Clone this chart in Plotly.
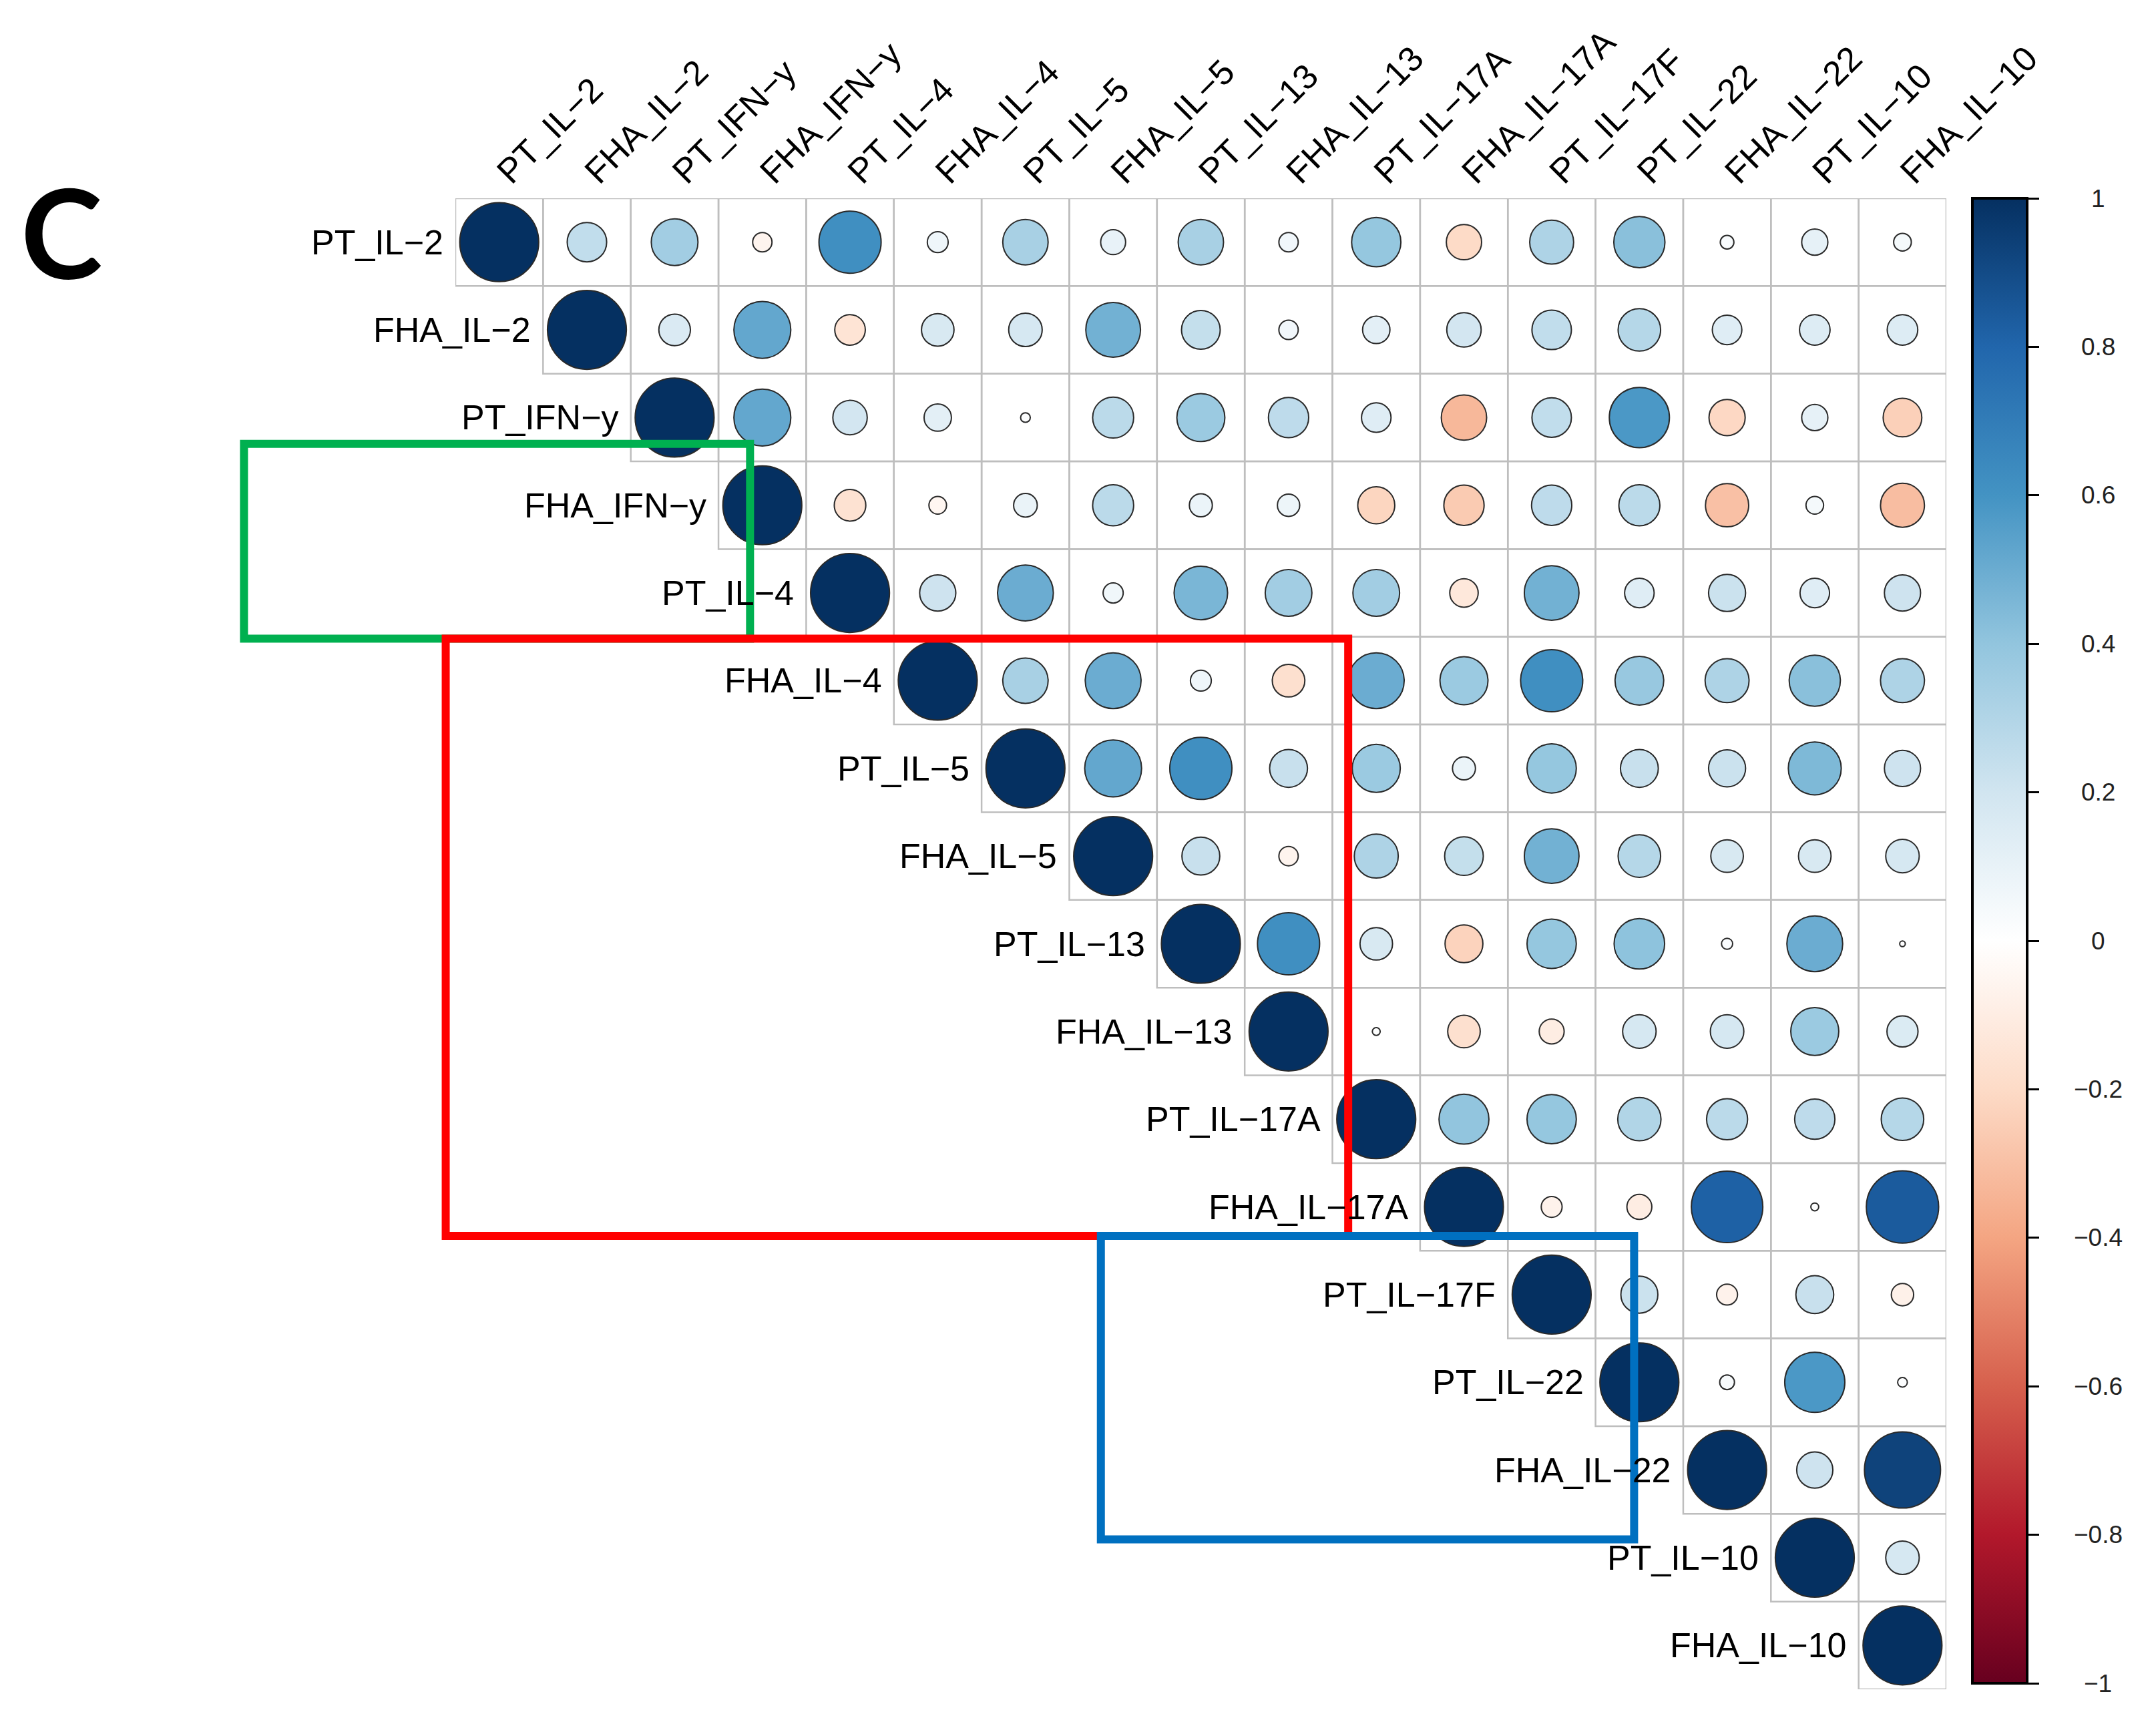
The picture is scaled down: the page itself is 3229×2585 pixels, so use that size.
import plotly.graph_objects as go

# ---------------- data ----------------
labels = ["PT_IL-2", "FHA_IL-2", "PT_IFN-y", "FHA_IFN-y", "PT_IL-4", "FHA_IL-4",
          "PT_IL-5", "FHA_IL-5", "PT_IL-13", "FHA_IL-13", "PT_IL-17A", "FHA_IL-17A",
          "PT_IL-17F", "PT_IL-22", "FHA_IL-22", "PT_IL-10", "FHA_IL-10"]

# upper triangle correlations, row i lists columns i+1 .. 16
r_PT_IL2 = [0.25, 0.35, -0.06, 0.62, 0.07, 0.33, 0.10, 0.33, 0.06, 0.39, -0.20, 0.31, 0.42, 0.03, 0.11, 0.05]
r_FHA_IL2 = [0.16, 0.52, -0.15, 0.17, 0.18, 0.48, 0.24, 0.06, 0.12, 0.19, 0.25, 0.29, 0.14, 0.15, 0.15]
r_PT_IFNy = [0.52, 0.19, 0.12, 0.015, 0.27, 0.37, 0.26, 0.14, -0.33, 0.25, 0.58, -0.21, 0.11, -0.24]
r_FHA_IFNy = [-0.16, -0.05, 0.09, 0.27, 0.085, 0.08, -0.22, -0.26, 0.26, 0.27, -0.30, 0.05, -0.31]
r_PT_IL4 = [0.21, 0.50, 0.065, 0.46, 0.35, 0.35, -0.13, 0.48, 0.14, 0.22, 0.14, 0.21]
r_FHA_IL4 = [0.33, 0.50, 0.07, -0.17, 0.50, 0.37, 0.62, 0.38, 0.31, 0.42, 0.31]
r_PT_IL5 = [0.52, 0.62, 0.23, 0.37, 0.085, 0.39, 0.23, 0.22, 0.45, 0.21]
r_FHA_IL5 = [0.23, -0.06, 0.31, 0.24, 0.48, 0.29, 0.17, 0.17, 0.18]
r_PT_IL13 = [0.62, 0.17, -0.23, 0.39, 0.41, 0.02, 0.50, 0.005]
r_FHA_IL13 = [0.01, -0.17, -0.10, 0.18, 0.18, 0.37, 0.155]
r_PT_IL17A = [0.40, 0.39, 0.30, 0.27, 0.26, 0.29]
r_FHA_IL17A = [-0.07, -0.10, 0.82, 0.01, 0.84]
r_PT_IL17F = [0.22, -0.07, 0.23, -0.08]
r_PT_IL22 = [0.035, 0.58, 0.015]
r_FHA_IL22 = [0.21, 0.93]
r_PT_IL10 = [0.18]
r_FHA_IL10 = []

upper_rows = [r_PT_IL2, r_FHA_IL2, r_PT_IFNy, r_FHA_IFNy, r_PT_IL4, r_FHA_IL4, r_PT_IL5,
              r_FHA_IL5, r_PT_IL13, r_FHA_IL13, r_PT_IL17A, r_FHA_IL17A, r_PT_IL17F,
              r_PT_IL22, r_FHA_IL22, r_PT_IL10, r_FHA_IL10]

colorbar_ticks = [1, 0.8, 0.6, 0.4, 0.2, 0, -0.2, -0.4, -0.6, -0.8, -1]
colorbar_ticktext = ["1", "0.8", "0.6", "0.4", "0.2", "0", "\u22120.2", "\u22120.4", "\u22120.6", "\u22120.8", "\u22121"]

# highlight boxes (in cell units): x0, x1, y0, y1, colour
highlight_boxes = [
    (-2.91, 2.86, 2.30, 4.52, "#00B050"),
    (-0.61, 9.68, 4.52, 11.33, "#FF0000"),
    (6.86, 12.94, 11.33, 14.79, "#0070C0"),
]

# ---------------- layout geometry ----------------
W, H = 3229, 2585
ML, MT = 674, 289
PLOT = 2233
MR, MB = W - ML - PLOT, H - MT - PLOT
n = len(labels)
cell_px = PLOT / n

RdBu = ["#67001F", "#B2182B", "#D6604D", "#F4A582", "#FDDBC7", "#FFFFFF",
        "#D1E5F0", "#92C5DE", "#4393C3", "#2166AC", "#053061"]
colorscale = [[k / (len(RdBu) - 1), c] for k, c in enumerate(RdBu)]

disp = lambda s: s.replace("-", "\u2212")
FONT = "Liberation Sans, Arial, sans-serif"

def px_x(p):  # pixel -> paper x
    return (p - ML) / PLOT

def px_y(p):  # pixel -> paper y
    return 1 - (p - MT) / PLOT

xs, ys, vals = [], [], []
for i, row in enumerate(upper_rows):
    full = [1.0] + row
    for k, v in enumerate(full):
        xs.append(i + k)
        ys.append(i)
        vals.append(v)
sizes = [0.9 * (abs(v) ** 0.5) * cell_px for v in vals]

fig = go.Figure()

cb_len = 2224 / PLOT
fig.add_trace(go.Scatter(
    x=xs, y=ys, mode="markers",
    marker=dict(
        size=sizes, color=vals, colorscale=colorscale, cmin=-1, cmax=1, opacity=1,
        line=dict(color="#2a2a2a", width=2),
        showscale=True,
        colorbar=dict(
            x=39 / PLOT + 1, xanchor="left", xpad=0,
            y=1, yanchor="top", ypad=0, len=cb_len, lenmode="fraction",
            thickness=82, thicknessmode="pixels",
            outlinecolor="black", outlinewidth=4,
            tickvals=colorbar_ticks, ticks="outside", ticklen=16, tickwidth=3,
            tickcolor="black", showticklabels=False,
        ),
    ),
    hoverinfo="skip", showlegend=False,
))

shapes = []
for i in range(n):
    for j in range(i, n):
        shapes.append(dict(type="rect", xref="x", yref="y", x0=j - 0.5, x1=j + 0.5,
                           y0=i - 0.5, y1=i + 0.5, line=dict(color="#BEBEBE", width=2.5),
                           layer="below"))
for x0, x1, y0, y1, col in highlight_boxes:
    shapes.append(dict(type="rect", xref="paper", yref="paper",
                       x0=(x0 + 0.5) / n, x1=(x1 + 0.5) / n,
                       y0=1 - (y0 + 0.5) / n, y1=1 - (y1 + 0.5) / n,
                       line=dict(color=col, width=12), layer="above"))

annotations = []
for i, lab in enumerate(labels):
    annotations.append(dict(x=i - 0.5, y=i, xref="x", yref="y", text=disp(lab),
                            showarrow=False, xanchor="right", yanchor="middle", xshift=-16,
                            font=dict(family=FONT, size=52, color="black")))
for v, t in zip(colorbar_ticks, colorbar_ticktext):
    yp = 1 - (1 - v) / 2 * cb_len
    annotations.append(dict(x=px_x(ML + PLOT + 227), y=yp, xref="paper", yref="paper", text=t,
                            showarrow=False, xanchor="center", yanchor="middle",
                            font=dict(family=FONT, size=37, color="#222222")))
annotations.append(dict(x=px_x(84), y=px_y(338),
                        xref="paper", yref="paper", text="C", showarrow=False,
                        xanchor="center", yanchor="middle",
                        font=dict(family="Lato, Open Sans, sans-serif", size=185,
                                  color="black", weight="bold")))

fig.update_layout(
    width=W, height=H,
    margin=dict(l=ML, r=MR, t=MT, b=MB, autoexpand=False),
    paper_bgcolor="white", plot_bgcolor="white",
    shapes=shapes, annotations=annotations,
    xaxis=dict(range=[-0.5, n - 0.5], side="top", tickmode="array",
               tickvals=list(range(n)), ticktext=[disp(l) for l in labels],
               tickangle=-45, showgrid=False, zeroline=False, showline=False,
               ticks="", tickfont=dict(family=FONT, size=52, color="black"),
               fixedrange=True),
    yaxis=dict(range=[n - 0.5, -0.5], showgrid=False, zeroline=False, showline=False,
               showticklabels=False, ticks="", fixedrange=True),
)

fig.write_html("out.html")
